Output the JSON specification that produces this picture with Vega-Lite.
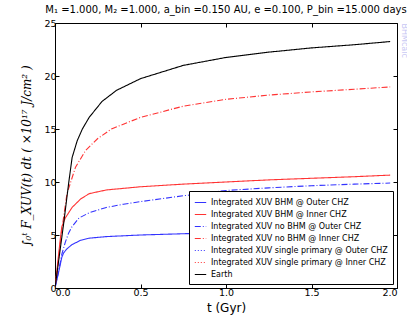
{
  "$schema": "https://vega.github.io/schema/vega-lite/v6.json",
  "width": 342,
  "height": 265,
  "autosize": "none",
  "padding": {"left": 55, "top": 23, "right": 10, "bottom": 28},
  "background": "white",
  "title": {
    "text": "M₁ =1.000, M₂ =1.000, a_bin =0.150 AU, e =0.100, P_bin =15.000 days",
    "font": "DejaVu Sans",
    "fontSize": 10,
    "fontWeight": "normal",
    "color": "#000000",
    "offset": 3,
    "anchor": "middle",
    "frame": "group"
  },
  "config": {
    "view": {"stroke": "#000000", "strokeWidth": 1},
    "axis": {"labelFont": "DejaVu Sans", "labelFontSize": 9.5, "labelColor": "#000000", "titleColor": "#000000", "grid": false, "domain": false, "tickColor": "#000000", "tickSize": -4}
  },
  "data": {
    "values": [
      {"s": "Integrated XUV BHM @ Outer CHZ", "t": 0, "v": 0},
      {"s": "Integrated XUV BHM @ Outer CHZ", "t": 0.02, "v": 1.4},
      {"s": "Integrated XUV BHM @ Outer CHZ", "t": 0.04, "v": 2.9},
      {"s": "Integrated XUV BHM @ Outer CHZ", "t": 0.05, "v": 3.3},
      {"s": "Integrated XUV BHM @ Outer CHZ", "t": 0.07, "v": 3.7},
      {"s": "Integrated XUV BHM @ Outer CHZ", "t": 0.1, "v": 4.1},
      {"s": "Integrated XUV BHM @ Outer CHZ", "t": 0.15, "v": 4.5},
      {"s": "Integrated XUV BHM @ Outer CHZ", "t": 0.2, "v": 4.7},
      {"s": "Integrated XUV BHM @ Outer CHZ", "t": 0.3, "v": 4.85},
      {"s": "Integrated XUV BHM @ Outer CHZ", "t": 0.5, "v": 5.0},
      {"s": "Integrated XUV BHM @ Outer CHZ", "t": 0.75, "v": 5.12},
      {"s": "Integrated XUV BHM @ Outer CHZ", "t": 1.0, "v": 5.22},
      {"s": "Integrated XUV BHM @ Outer CHZ", "t": 1.25, "v": 5.3},
      {"s": "Integrated XUV BHM @ Outer CHZ", "t": 1.5, "v": 5.38},
      {"s": "Integrated XUV BHM @ Outer CHZ", "t": 1.75, "v": 5.45},
      {"s": "Integrated XUV BHM @ Outer CHZ", "t": 1.96, "v": 5.5},

      {"s": "Integrated XUV BHM @ Inner CHZ", "t": 0, "v": 0},
      {"s": "Integrated XUV BHM @ Inner CHZ", "t": 0.02, "v": 3.0},
      {"s": "Integrated XUV BHM @ Inner CHZ", "t": 0.03, "v": 4.5},
      {"s": "Integrated XUV BHM @ Inner CHZ", "t": 0.04, "v": 5.8},
      {"s": "Integrated XUV BHM @ Inner CHZ", "t": 0.06, "v": 6.6},
      {"s": "Integrated XUV BHM @ Inner CHZ", "t": 0.1, "v": 7.6},
      {"s": "Integrated XUV BHM @ Inner CHZ", "t": 0.15, "v": 8.4},
      {"s": "Integrated XUV BHM @ Inner CHZ", "t": 0.2, "v": 8.9},
      {"s": "Integrated XUV BHM @ Inner CHZ", "t": 0.3, "v": 9.25},
      {"s": "Integrated XUV BHM @ Inner CHZ", "t": 0.5, "v": 9.55},
      {"s": "Integrated XUV BHM @ Inner CHZ", "t": 0.75, "v": 9.8},
      {"s": "Integrated XUV BHM @ Inner CHZ", "t": 1.0, "v": 10.0},
      {"s": "Integrated XUV BHM @ Inner CHZ", "t": 1.25, "v": 10.2},
      {"s": "Integrated XUV BHM @ Inner CHZ", "t": 1.5, "v": 10.35},
      {"s": "Integrated XUV BHM @ Inner CHZ", "t": 1.75, "v": 10.5},
      {"s": "Integrated XUV BHM @ Inner CHZ", "t": 1.96, "v": 10.65},

      {"s": "Integrated XUV no BHM @ Outer CHZ", "t": 0, "v": 0},
      {"s": "Integrated XUV no BHM @ Outer CHZ", "t": 0.02, "v": 1.5},
      {"s": "Integrated XUV no BHM @ Outer CHZ", "t": 0.04, "v": 3.2},
      {"s": "Integrated XUV no BHM @ Outer CHZ", "t": 0.06, "v": 4.3},
      {"s": "Integrated XUV no BHM @ Outer CHZ", "t": 0.08, "v": 5.2},
      {"s": "Integrated XUV no BHM @ Outer CHZ", "t": 0.1, "v": 5.8},
      {"s": "Integrated XUV no BHM @ Outer CHZ", "t": 0.14, "v": 6.6},
      {"s": "Integrated XUV no BHM @ Outer CHZ", "t": 0.2, "v": 7.1},
      {"s": "Integrated XUV no BHM @ Outer CHZ", "t": 0.3, "v": 7.6},
      {"s": "Integrated XUV no BHM @ Outer CHZ", "t": 0.4, "v": 7.9},
      {"s": "Integrated XUV no BHM @ Outer CHZ", "t": 0.5, "v": 8.15},
      {"s": "Integrated XUV no BHM @ Outer CHZ", "t": 0.75, "v": 8.7},
      {"s": "Integrated XUV no BHM @ Outer CHZ", "t": 1.0, "v": 9.2},
      {"s": "Integrated XUV no BHM @ Outer CHZ", "t": 1.25, "v": 9.45},
      {"s": "Integrated XUV no BHM @ Outer CHZ", "t": 1.5, "v": 9.65},
      {"s": "Integrated XUV no BHM @ Outer CHZ", "t": 1.75, "v": 9.8},
      {"s": "Integrated XUV no BHM @ Outer CHZ", "t": 1.96, "v": 9.9},

      {"s": "Integrated XUV no BHM @ Inner CHZ", "t": 0, "v": 0},
      {"s": "Integrated XUV no BHM @ Inner CHZ", "t": 0.02, "v": 2.6},
      {"s": "Integrated XUV no BHM @ Inner CHZ", "t": 0.04, "v": 5.5},
      {"s": "Integrated XUV no BHM @ Inner CHZ", "t": 0.07, "v": 8.9},
      {"s": "Integrated XUV no BHM @ Inner CHZ", "t": 0.1, "v": 10.4},
      {"s": "Integrated XUV no BHM @ Inner CHZ", "t": 0.12, "v": 11.4},
      {"s": "Integrated XUV no BHM @ Inner CHZ", "t": 0.18, "v": 13.0},
      {"s": "Integrated XUV no BHM @ Inner CHZ", "t": 0.25, "v": 14.1},
      {"s": "Integrated XUV no BHM @ Inner CHZ", "t": 0.33, "v": 15.0},
      {"s": "Integrated XUV no BHM @ Inner CHZ", "t": 0.5, "v": 16.1},
      {"s": "Integrated XUV no BHM @ Inner CHZ", "t": 0.75, "v": 17.15},
      {"s": "Integrated XUV no BHM @ Inner CHZ", "t": 1.0, "v": 17.8},
      {"s": "Integrated XUV no BHM @ Inner CHZ", "t": 1.25, "v": 18.2},
      {"s": "Integrated XUV no BHM @ Inner CHZ", "t": 1.5, "v": 18.5},
      {"s": "Integrated XUV no BHM @ Inner CHZ", "t": 1.75, "v": 18.75},
      {"s": "Integrated XUV no BHM @ Inner CHZ", "t": 1.96, "v": 18.97},

      {"s": "Earth", "t": 0, "v": 0},
      {"s": "Earth", "t": 0.02, "v": 2.4},
      {"s": "Earth", "t": 0.05, "v": 6.0},
      {"s": "Earth", "t": 0.08, "v": 9.9},
      {"s": "Earth", "t": 0.1, "v": 12.3},
      {"s": "Earth", "t": 0.13, "v": 13.9},
      {"s": "Earth", "t": 0.16, "v": 15.0},
      {"s": "Earth", "t": 0.2, "v": 16.1},
      {"s": "Earth", "t": 0.275, "v": 17.6},
      {"s": "Earth", "t": 0.36, "v": 18.65},
      {"s": "Earth", "t": 0.5, "v": 19.75},
      {"s": "Earth", "t": 0.75, "v": 21.0},
      {"s": "Earth", "t": 1.0, "v": 21.75},
      {"s": "Earth", "t": 1.25, "v": 22.25},
      {"s": "Earth", "t": 1.5, "v": 22.65},
      {"s": "Earth", "t": 1.75, "v": 22.95},
      {"s": "Earth", "t": 1.96, "v": 23.25}
    ]
  },
  "layer": [
    {
      "mark": {"type": "line", "opacity": 0},
      "encoding": {
        "x": {"field": "t", "type": "quantitative", "scale": {"domain": [0, 2], "nice": false},
          "axis": {"orient": "top", "labels": false, "title": null, "values": [0, 0.5, 1, 1.5, 2], "minExtent": 0, "maxExtent": 0}},
        "y": {"field": "v", "type": "quantitative", "scale": {"domain": [0, 25], "nice": false},
          "axis": {"orient": "right", "labels": false, "values": [0, 5, 10, 15, 20, 25], "title": "BHMcalc", "titleColor": "#c8c8f4", "titleFont": "DejaVu Sans", "titleFontSize": 8, "titleFontWeight": "normal", "titleAnchor": "end", "titleAlign": "left", "titlePadding": 2, "minExtent": 0, "maxExtent": 0}},
        "detail": {"field": "s"}
      }
    },
    {
      "mark": {"type": "line", "clip": true},
      "encoding": {
        "x": {"field": "t", "type": "quantitative", "scale": {"domain": [0, 2], "nice": false},
          "axis": {"orient": "bottom", "format": ".1f", "values": [0, 0.5, 1, 1.5, 2], "title": "t (Gyr)", "titleFont": "DejaVu Sans", "titleFontSize": 12, "titleFontWeight": "normal", "titlePadding": 6, "labelPadding": 3}},
        "y": {"field": "v", "type": "quantitative", "scale": {"domain": [0, 25], "nice": false},
          "axis": {"orient": "left", "values": [0, 5, 10, 15, 20, 25], "title": "∫₀ᵗ F_XUV(t) dt  ( ×10¹⁷  J/cm² )", "titleFont": "DejaVu Serif", "titleFontSize": 12, "titleFontWeight": "normal", "titleFontStyle": "italic", "titlePadding": 10, "labelPadding": 3}},
        "color": {"field": "s", "type": "nominal",
          "scale": {
            "domain": ["Integrated XUV BHM @ Outer CHZ", "Integrated XUV BHM @ Inner CHZ", "Integrated XUV no BHM @ Outer CHZ", "Integrated XUV no BHM @ Inner CHZ", "Integrated XUV single primary @ Outer CHZ", "Integrated XUV single primary @ Inner CHZ", "Earth"],
            "range": ["#3333ff", "#ff3333", "#3333ff", "#ff3333", "#3333ff", "#ff3333", "#000000"]
          },
          "legend": {"title": null, "orient": "bottom-right", "offset": 4, "strokeColor": "#000000", "fillColor": "#ffffff", "padding": 5, "symbolType": "stroke", "symbolSize": 130, "symbolStrokeWidth": 1.5, "labelFont": "DejaVu Sans", "labelFontSize": 8, "labelColor": "#000000", "rowPadding": 1, "labelLimit": 250}
        },
        "strokeDash": {"field": "s", "type": "nominal",
          "scale": {
            "domain": ["Integrated XUV BHM @ Outer CHZ", "Integrated XUV BHM @ Inner CHZ", "Integrated XUV no BHM @ Outer CHZ", "Integrated XUV no BHM @ Inner CHZ", "Integrated XUV single primary @ Outer CHZ", "Integrated XUV single primary @ Inner CHZ", "Earth"],
            "range": [[1, 0], [1, 0], [6, 2, 1, 2], [6, 2, 1, 2], [1, 2], [1, 2], [1, 0]]
          },
          "legend": {"title": null, "orient": "bottom-right", "offset": 4, "strokeColor": "#000000", "fillColor": "#ffffff", "padding": 5, "symbolType": "stroke", "symbolSize": 130, "symbolStrokeWidth": 1.5, "labelFont": "DejaVu Sans", "labelFontSize": 8, "labelColor": "#000000", "rowPadding": 1, "labelLimit": 250}
        },
        "strokeWidth": {"field": "s", "type": "nominal",
          "scale": {
            "domain": ["Integrated XUV BHM @ Outer CHZ", "Integrated XUV BHM @ Inner CHZ", "Integrated XUV no BHM @ Outer CHZ", "Integrated XUV no BHM @ Inner CHZ", "Integrated XUV single primary @ Outer CHZ", "Integrated XUV single primary @ Inner CHZ", "Earth"],
            "range": [1.1, 1.1, 1.1, 1.1, 1.1, 1.1, 2]
          },
          "legend": null
        }
      }
    }
  ],
  "resolve": {"axis": {"x": "independent", "y": "independent"}}
}
